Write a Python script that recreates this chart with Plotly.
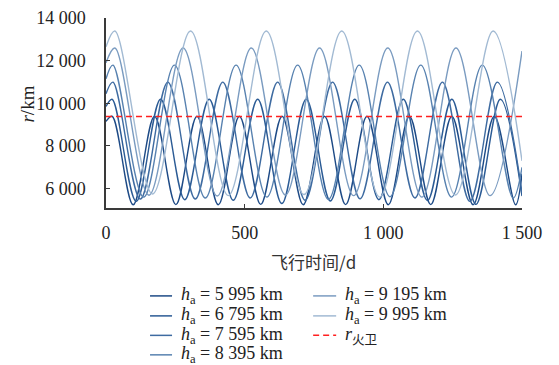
import plotly.graph_objects as go

# Data (flight time in days, radius in km)
t_5995 = [0, 22, 98, 175, 252, 328, 405, 481, 558, 635, 711, 788, 864, 941, 1018, 1094, 1171, 1247, 1324, 1400, 1477, 1500]
r_5995 = [9150, 9391, 5240, 9391, 5250, 9391, 5240, 9391, 5260, 9391, 5240, 9391, 5250, 9391, 5240, 9391, 5250, 9391, 5240, 9391, 5240, 6700]

t_6795 = [0, 22, 109, 197, 284, 372, 459, 547, 634, 722, 809, 897, 984, 1072, 1159, 1247, 1334, 1422, 1500]
r_6795 = [9850, 10191, 5400, 10191, 5480, 10191, 5450, 10191, 5300, 10191, 5420, 10191, 5480, 10191, 5440, 10191, 5260, 10191, 5650]

t_7595 = [0, 25, 124, 223, 322, 421, 520, 619, 718, 817, 916, 1015, 1114, 1213, 1312, 1411, 1500]
r_7595 = [10450, 10991, 5510, 10991, 5510, 10991, 5560, 10991, 5450, 10991, 5520, 10991, 5560, 10991, 5400, 10991, 5800]

t_8395 = [0, 25, 136, 247, 358, 469, 580, 691, 802, 913, 1024, 1135, 1246, 1357, 1468, 1500]
r_8395 = [11150, 11791, 5600, 11791, 5560, 11791, 5600, 11791, 5500, 11791, 5620, 11791, 5600, 11791, 5550, 7000]

t_9195 = [0, 32, 155, 278, 401, 524, 647, 770, 893, 1016, 1139, 1262, 1385, 1500]
r_9195 = [11900, 12591, 5690, 12591, 5650, 12591, 5700, 12591, 5670, 12591, 5600, 12591, 5670, 12450]

t_9995 = [0, 32, 168, 305, 441, 578, 714, 850, 987, 1123, 1260, 1396, 1500]
r_9995 = [12650, 13391, 5750, 13391, 5670, 13391, 5720, 13391, 5600, 13391, 5700, 13391, 7300]

r_phobos = 9376
labels = ["5 995", "6 795", "7 595", "8 395", "9 195", "9 995"]
colors = ["#1d4a86", "#2b5b95", "#3e6ba1", "#5882b0", "#7a9bc0", "#a2bad3"]
phobos_color = "#ff2020"

series = [(t_5995, r_5995), (t_6795, r_6795), (t_7595, r_7595),
          (t_8395, r_8395), (t_9195, r_9195), (t_9995, r_9995)]

W, H = 559, 365
L, R, T, B = 106, 37.3, 18.3, 156.5
PW, PH = W - L - R, H - T - B


def px(X):
    return (X - L) / PW


def py(Y):
    return 1 - (Y - T) / PH


SERIF = "Liberation Serif, Noto Sans CJK SC, serif"
fig = go.Figure()
names = []
for (t, r), lab, c in zip(series, labels, colors):
    nm = f"<i>h</i><sub>a</sub> = {lab} km"
    names.append(nm)
    fig.add_trace(go.Scatter(
        x=t, y=r, mode="lines", name=nm, showlegend=False, hoverinfo="skip",
        line=dict(color=c, width=1.4, shape="spline", smoothing=1.0),
    ))

ph_name = "<i>r</i><sub>火卫</sub>"
fig.add_trace(go.Scatter(
    x=[0, 1500], y=[r_phobos, r_phobos], mode="lines", name=ph_name, showlegend=False,
    hoverinfo="skip", line=dict(color=phobos_color, width=1.5, dash="6px,4px"),
))

# manual legend (two columns)
rows = [296.5, 316.5, 336, 355.5]
entries = [(names[i], colors[i], "solid", 0, i) for i in range(4)] + \
          [(names[4], colors[4], "solid", 1, 0), (names[5], colors[5], "solid", 1, 1),
           (ph_name, phobos_color, "6px,4px", 1, 2)]
col_line = [(150, 172), (313, 336)]
col_text = [179, 343]
for nm, c, dash, col, row in entries:
    y = rows[row]
    x0, x1 = col_line[col]
    fig.add_shape(type="line", xref="paper", yref="paper",
                  x0=px(x0), x1=px(x1), y0=py(y), y1=py(y),
                  line=dict(color=c, width=1.5, dash=dash))
    fig.add_annotation(xref="paper", yref="paper", x=px(col_text[col]), y=py(y),
                       text=nm, showarrow=False, xanchor="left", yanchor="middle",
                       font=dict(family=SERIF, size=18, color="#222222"))

# axis titles
fig.add_annotation(xref="paper", yref="paper", x=px(313), y=py(262), text="飞行时间/d",
                   showarrow=False, xanchor="center", yanchor="middle",
                   font=dict(family="Noto Sans CJK SC, sans-serif", size=17, color="#333333"))
fig.add_annotation(xref="paper", yref="paper", x=px(28), y=py(104), text="<i>r</i>/km",
                   showarrow=False, xanchor="center", yanchor="middle", textangle=-90,
                   font=dict(family=SERIF, size=19, color="#222222"))

axis_common = dict(
    showgrid=False, zeroline=False, showline=True, linecolor="#3a3a3a",
    linewidth=1.5, ticks="inside", ticklen=4, tickcolor="#3a3a3a", tickwidth=1.2,
    tickfont=dict(family=SERIF, size=18, color="#222222"), automargin=False,
)

fig.update_layout(
    width=W, height=H,
    margin=dict(l=L, r=R, t=T, b=B, autoexpand=False),
    paper_bgcolor="white", plot_bgcolor="white",
    separators=". ",
    font=dict(family=SERIF, size=17, color="#222222"),
    xaxis=dict(range=[0, 1500], tickvals=[0, 500, 1000, 1500], tickformat=",d",
               ticklabelstandoff=8, **axis_common),
    yaxis=dict(range=[5090, 14000], tickvals=[6000, 8000, 10000, 12000, 14000], tickformat=",d",
               ticklabelstandoff=15, **axis_common),
    showlegend=False,
)

fig.write_html("out.html", config={"displayModeBar": False},
               post_script="document.body.style.margin='0';")
